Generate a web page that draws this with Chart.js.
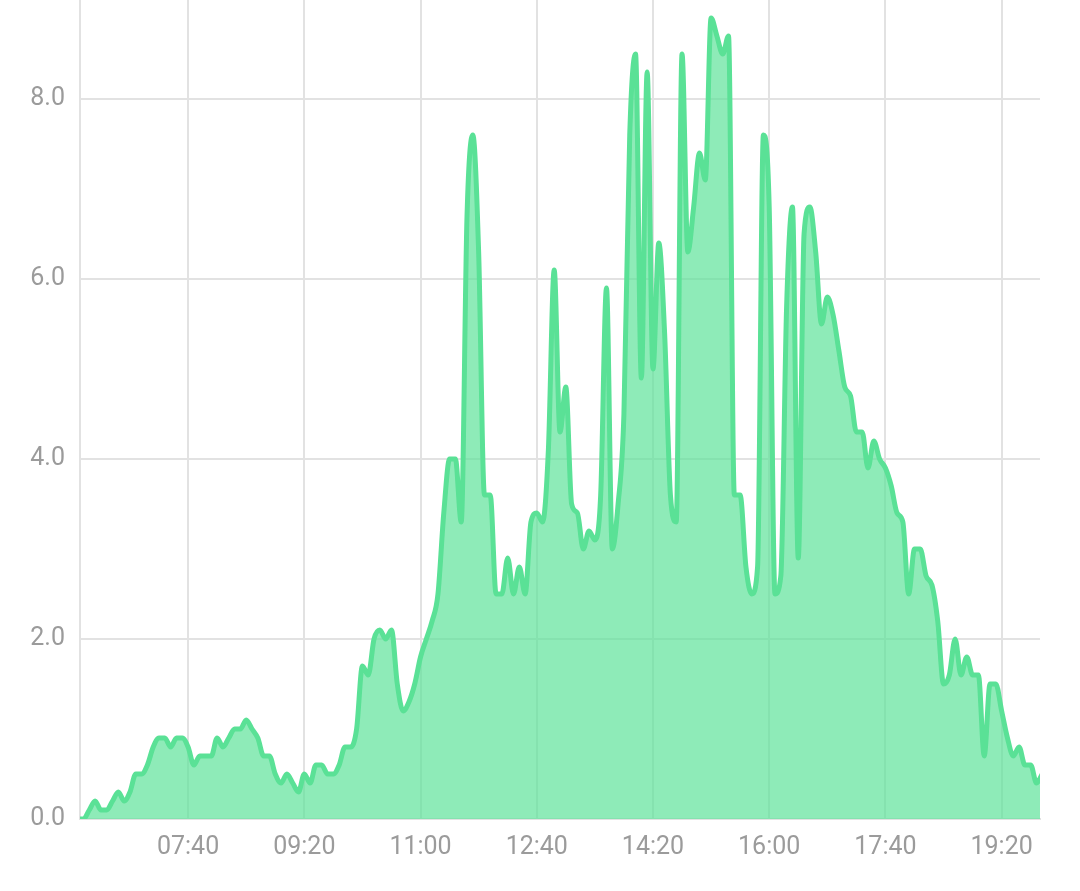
<!DOCTYPE html>
<html>
<head>
<meta charset="utf-8">
<script src="https://cdn.jsdelivr.net/npm/chart.js@4/dist/chart.umd.min.js"></script>
<style>
  html, body { margin: 0; padding: 0; background: #fff; }
  #wrap { width: 1080px; height: 891px; }
</style>
</head>
<body>
<div id="wrap"><canvas id="powerChart" width="1080" height="891"></canvas></div>
<script>
// samples every 5 minutes starting at 06:05
const START_TIME = '06:05';
const STEP_MIN = 5;

const values = [
  0,
  0, 0.1, 0.2, 0.1, 0.1, 0.2, 0.3, 0.2, 0.3, 0.5,
  0.5, 0.6, 0.8, 0.9, 0.9, 0.8, 0.9, 0.9, 0.8, 0.6,
  0.7, 0.7, 0.7, 0.9, 0.8, 0.9, 1.0, 1.0, 1.1, 1.0,
  0.9, 0.7, 0.7, 0.5, 0.4, 0.5, 0.4, 0.3, 0.5, 0.4,
  0.6, 0.6, 0.5, 0.5, 0.6, 0.8, 0.8, 1.0, 1.7, 1.6,
  2.0, 2.1, 2.0, 2.1, 1.5, 1.2, 1.3, 1.5, 1.8, 2.0,
  2.2, 2.5, 3.4, 4.0, 4.0, 3.3, 6.7, 7.6, 6.3, 3.6,
  3.6, 2.5, 2.5, 2.9, 2.5, 2.8, 2.5, 3.3, 3.4, 3.3,
  4.1, 6.1, 4.3, 4.8, 3.5, 3.4, 3.0, 3.2, 3.1, 3.6,
  5.9, 3.0, 3.5, 4.5, 7.6, 8.5, 4.9, 8.3, 5.0, 6.4,
  5.4, 3.6, 3.3, 8.5, 6.3, 6.8, 7.4, 7.1, 8.9, 8.7,
  8.5, 8.7, 3.6, 3.6, 2.8, 2.5, 2.8, 7.6, 6.8, 2.5,
  2.7, 5.7, 6.8, 2.9, 6.5, 6.8, 6.3, 5.5, 5.8, 5.6,
  5.2, 4.8, 4.7, 4.3, 4.3, 3.9, 4.2, 4.0, 3.9, 3.7,
  3.4, 3.3, 2.5, 3.0, 3.0, 2.7, 2.6, 2.2, 1.5, 1.6,
  2.0, 1.6, 1.8, 1.6, 1.6, 0.7, 1.5, 1.5, 1.2, 0.9,
  0.7, 0.8, 0.6, 0.6, 0.4, 0.5
];

const xTickLabels = ['07:40', '09:20', '11:00', '12:40', '14:20', '16:00', '17:40', '19:20'];
const yTickValues = [0, 2, 4, 6, 8];
const xRange = ['06:07', '19:53'];
const yMax = 9.1;

function toMin(hhmm) {
  const [h, m] = hhmm.split(':').map(Number);
  return h * 60 + m;
}

function toHHMM(min) {
  const h = Math.floor(min / 60);
  const m = Math.round(min % 60);
  return String(h).padStart(2, '0') + ':' + String(m).padStart(2, '0');
}

const startMin = toMin(START_TIME);
const points = values.map((v, i) => ({ x: startMin + i * STEP_MIN, y: v }));

const gridColor = '#e2e2e2';
const labelColor = '#9b9b9b';
const labelFont = { family: 'Roboto', size: 25 };

// drop the edge padding chart.js reserves for half-labels
function noEdgePadding(scale) {
  scale.paddingTop = 0;
  scale.paddingBottom = 0;
  scale.paddingLeft = 0;
  scale.paddingRight = 0;
}

new Chart(document.getElementById('powerChart'), {
  type: 'line',
  data: {
    datasets: [{
      data: points,
      borderColor: '#5ae196',
      backgroundColor: 'rgba(88, 225, 150, 0.68)',
      borderWidth: 5,
      pointRadius: 0,
      cubicInterpolationMode: 'monotone',
      fill: 'origin'
    }]
  },
  options: {
    responsive: false,
    animation: false,
    layout: { padding: { top: 0, right: 40, bottom: 0, left: 0 } },
    plugins: { legend: { display: false }, tooltip: { enabled: false } },
    scales: {
      x: {
        type: 'linear',
        min: toMin(xRange[0]),
        max: toMin(xRange[1]),
        afterBuildTicks: scale => {
          scale.ticks = xTickLabels.map(t => ({ value: toMin(t) }));
        },
        afterFit: scale => { scale.height = 72; noEdgePadding(scale); },
        grid: { color: gridColor, lineWidth: 2, drawTicks: false },
        border: { color: gridColor, width: 2 },
        ticks: {
          color: labelColor,
          font: labelFont,
          padding: 14,
          maxRotation: 0,
          callback: v => toHHMM(v)
        }
      },
      y: {
        min: 0,
        max: yMax,
        afterBuildTicks: scale => {
          scale.ticks = yTickValues.map(v => ({ value: v }));
        },
        afterFit: scale => { scale.width = 80; noEdgePadding(scale); },
        grid: { color: gridColor, lineWidth: 2, drawTicks: false },
        border: { color: gridColor, width: 2 },
        ticks: {
          color: labelColor,
          font: labelFont,
          padding: 15,
          callback: v => Number(v).toFixed(1)
        }
      }
    }
  }
});
</script>
</body>
</html>
